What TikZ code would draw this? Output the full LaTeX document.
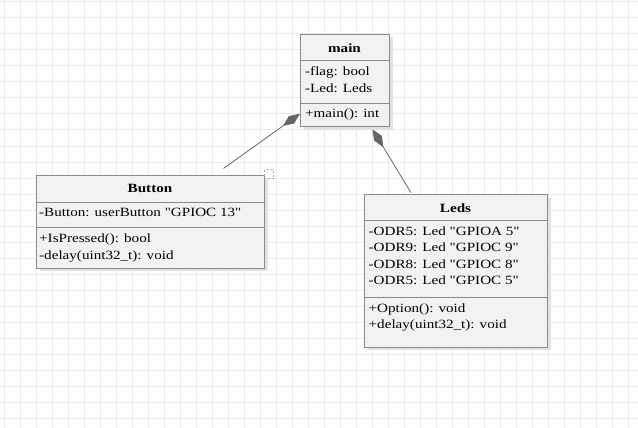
\documentclass[tikz,border=0pt]{standalone}
\usepackage{fontspec}
\setmainfont{Liberation Serif}[FakeStretch=1.2, Ligatures=TeXOff]
\usetikzlibrary{arrows.meta,shadows}
\definecolor{gridc}{HTML}{EBEBEB}
\definecolor{boxfill}{HTML}{F2F2F2}
\definecolor{boxborder}{HTML}{8A8A8A}
\definecolor{shadowc}{HTML}{E2E2E2}
\definecolor{connc}{HTML}{666666}
\definecolor{textc}{HTML}{000000}
\begin{document}
\begin{tikzpicture}[x=1pt,y=-1pt,
  gridline/.style={draw=gridc, line width=1pt},
  classbox/.style={draw=boxborder, fill=boxfill, line width=1pt, anchor=north west, inner sep=0pt,
    drop shadow={shadow xshift=3pt, shadow yshift=-3pt, fill=shadowc, opacity=1}},
  sepline/.style={draw=boxborder, line width=1pt},
  txt/.style={anchor=west, inner sep=0pt, font=\fontsize{12.6}{15}\selectfont, text=textc},
  ttl/.style={anchor=center, inner sep=0pt, font=\fontsize{12.6}{15}\selectfont\bfseries, text=textc},
  conn/.style={draw=connc, line width=0.8pt, -{Diamond[length=21pt,width=9pt,fill=connc]}},
  handle/.style={draw=black!35, dash pattern=on 2pt off 2pt, line width=0.8pt}
]
\useasboundingbox (0,0) rectangle (638,428);
\fill[white] (0,0) rectangle (638,428);
\foreach \i in {0,...,39} \draw[gridline] (4+16*\i,0) -- (4+16*\i,428);
\foreach \j in {0,...,26} \draw[gridline] (0,2+16*\j) -- (638,2+16*\j);

% main
\node[classbox, minimum width=89pt, minimum height=92.5pt] (main) at (300,34) {};
\draw[sepline] (300,61) -- (389,61);
\draw[sepline] (300,103.5) -- (389,103.5);
\node[ttl] (mainT) at (344.5,47.7) {main};
\node[txt] (mainA1) at (305,72.7) {-flag: bool};
\node[txt] (mainA2) at (305,88.5) {-Led: Leds};
\node[txt] (mainM1) at (305,114.5) {+main(): int};

% Button
\node[classbox, minimum width=228pt, minimum height=92.5pt] (button) at (36,175) {};
\draw[sepline] (36,202) -- (264,202);
\draw[sepline] (36,227.5) -- (264,227.5);
\node[ttl] (buttonT) at (150,188.3) {Button};
\node[txt] (buttonA1) at (39,212.7) {-Button: userButton "GPIOC 13"};
\node[txt] (buttonM1) at (39,239) {+IsPressed(): bool};
\node[txt] (buttonM2) at (39,256) {-delay(uint32\_t): void};
\draw[handle] (264.5,169.5) rectangle (273.5,178.5);

% Leds
\node[classbox, minimum width=183pt, minimum height=152.5pt] (leds) at (364,194) {};
\draw[sepline] (364,220) -- (547,220);
\draw[sepline] (364,297.3) -- (547,297.3);
\node[ttl] (ledsT) at (455.5,207.7) {Leds};
\node[txt] (ledsA1) at (368.5,231.7) {-ODR5: Led "GPIOA 5"};
\node[txt] (ledsA2) at (368.5,247.7) {-ODR9: Led "GPIOC 9"};
\node[txt] (ledsA3) at (368.5,264.5) {-ODR8: Led "GPIOC 8"};
\node[txt] (ledsA4) at (368.5,280.7) {-ODR5: Led "GPIOC 5"};
\node[txt] (ledsM1) at (368.5,309) {+Option(): void};
\node[txt] (ledsM2) at (368.5,325) {+delay(uint32\_t): void};

% connectors
\path (main.south west) ++(0,-13.8) coordinate (tipB);
\path (main.south west) ++(72.5,1.8) coordinate (tipL);
\path (button.north west) ++(187.5,-6.5) coordinate (endB);
\path (leds.north west) ++(47,-1.3) coordinate (endL);
\draw[conn] (endB) -- (tipB);
\draw[conn] (endL) -- (tipL);
\end{tikzpicture}
\end{document}
